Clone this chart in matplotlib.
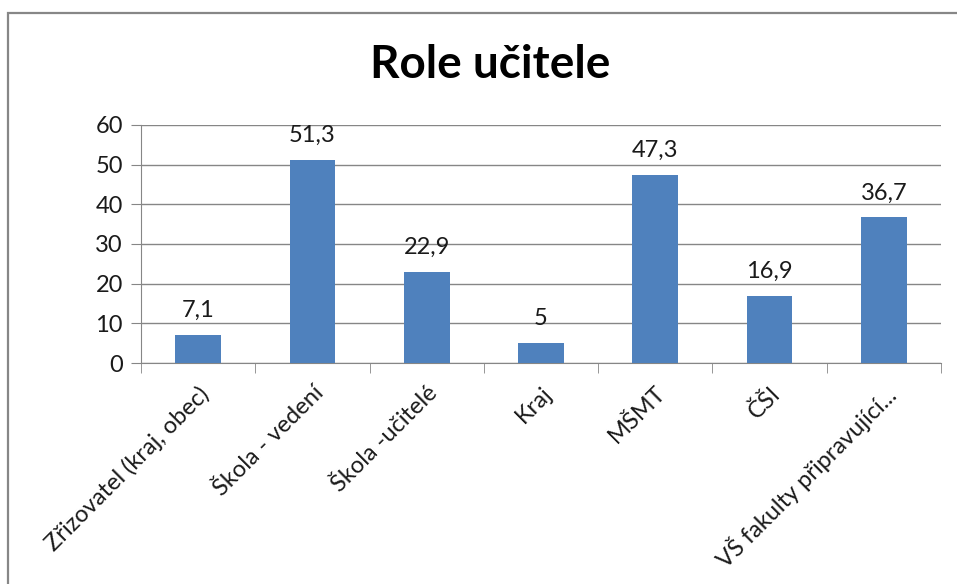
import matplotlib.pyplot as plt
import numpy as np
from matplotlib.patches import Rectangle

# Data -------------------------------------------------------------
categories = ["Zřizovatel (kraj, obec)", "Škola - vedení", "Škola -učitelé",
              "Kraj", "MŠMT", "ČŠI", "VŠ fakulty připravující..."]
values = [7.1, 51.3, 22.9, 5, 47.3, 16.9, 36.7]
value_labels = ["7,1", "51,3", "22,9", "5", "47,3", "16,9", "36,7"]
y_ticks = [0, 10, 20, 30, 40, 50, 60]

# Style ------------------------------------------------------------
plt.rcParams['font.family'] = ['Lato', 'DejaVu Sans']
bar_color = "#4F81BD"
grid_color = "#868686"
text_color = "#1a1a1a"

fig = plt.figure(figsize=(9.57, 5.84), dpi=100)
W, H = 957, 584

# Chart frame (cropped on right and bottom like the reference)
fig.patches.append(Rectangle((8 / W, -0.05), 1.2, 1 - 13 / H + 0.05,
                             transform=fig.transFigure, fill=False,
                             edgecolor="#878787", linewidth=1.6))

ax = fig.add_axes([141 / W, 1 - 363 / H, 800 / W, 238 / H])
x = np.arange(len(categories))
ax.bar(x, values, width=0.4, color=bar_color, zorder=3)

# value labels sit well above the bars, like Excel
for xi, v, lab in zip(x, values, value_labels):
    ax.annotate(lab, (xi, v), xytext=(0, 13), textcoords="offset points",
                ha="center", va="baseline", fontsize=17, color=text_color)

ax.set_xlim(-0.5, len(categories) - 0.5)
ax.set_ylim(0, 60)
ax.set_yticks(y_ticks)
ax.set_yticklabels([str(t) for t in y_ticks], fontsize=17, color=text_color)
ax.yaxis.grid(True, color=grid_color, linewidth=1.0, zorder=0)

ax.set_xticks(x)
ax.set_xticklabels(categories, rotation=45, ha="right", va="top",
                   rotation_mode="anchor", fontsize=17, color=text_color)
ax.tick_params(axis="x", length=0, pad=14)
ax.set_xticks(np.arange(-0.5, len(categories)), minor=True)
ax.tick_params(axis="x", which="minor", length=7, color=grid_color)
ax.tick_params(axis="y", length=7, color=grid_color, pad=6)

for side in ["top", "right"]:
    ax.spines[side].set_visible(False)
ax.spines["left"].set_color(grid_color)
ax.spines["bottom"].set_color(grid_color)

fig.text(490 / W, 1 - 65 / H, "Role učitele", ha="center", va="center",
         fontsize=33, fontweight="bold", color="black")

fig.savefig("out.png", dpi=100)
